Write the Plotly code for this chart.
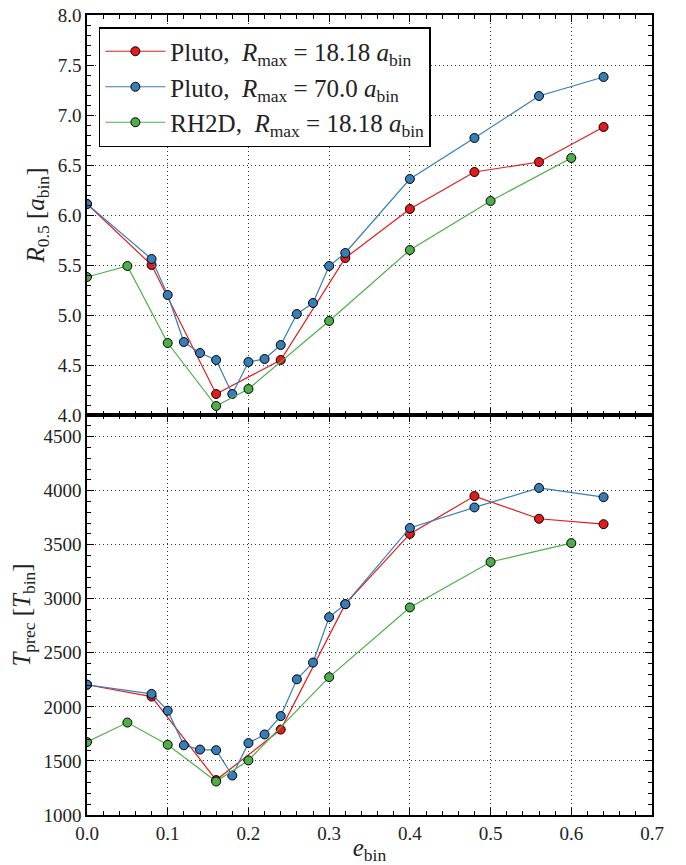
import plotly.graph_objects as go
from plotly.subplots import make_subplots

# Data
e_red = [0.0, 0.08, 0.16, 0.24, 0.32, 0.40, 0.48, 0.56, 0.64]
r_red = [6.11, 5.50, 4.21, 4.55, 5.57, 6.06, 6.43, 6.53, 6.88]
t_red = [2205, 2095, 1323, 1790, 2950, 3600, 3950, 3740, 3690]

e_blue = [0.0, 0.08, 0.10, 0.12, 0.14, 0.16, 0.18, 0.20, 0.22, 0.24, 0.26, 0.28, 0.30, 0.32, 0.40, 0.48, 0.56, 0.64]
r_blue = [6.11, 5.56, 5.20, 4.73, 4.62, 4.55, 4.21, 4.53, 4.56, 4.70, 5.01, 5.12, 5.49, 5.62, 6.36, 6.77, 7.19, 7.38]
t_blue = [2205, 2120, 1965, 1645, 1605, 1600, 1365, 1665, 1745, 1915, 2255, 2410, 2830, 2950, 3655, 3845, 4025, 3940]

e_green = [0.0, 0.05, 0.10, 0.16, 0.20, 0.30, 0.40, 0.50, 0.60]
r_green = [5.38, 5.49, 4.72, 4.09, 4.26, 4.94, 5.65, 6.14, 6.57]
t_green = [1675, 1855, 1650, 1310, 1505, 2275, 2920, 3340, 3515]

names = [
    "Pluto,  <i>R</i><sub>max</sub> = 18.18 <i>a</i><sub>bin</sub>",
    "Pluto,  <i>R</i><sub>max</sub> = 70.0 <i>a</i><sub>bin</sub>",
    "RH2D,  <i>R</i><sub>max</sub> = 18.18 <i>a</i><sub>bin</sub>",
]
colors = ["#e41a1c", "#377eb8", "#4daf4a"]

FONT = "Liberation Serif"

fig = make_subplots(rows=2, cols=1, shared_xaxes=False, vertical_spacing=0.0)

series = [(e_red, r_red, t_red), (e_blue, r_blue, t_blue), (e_green, r_green, t_green)]
for i, (ex, ry, ty) in enumerate(series):
    common = dict(mode="lines+markers",
                  line=dict(color=colors[i], width=1.2),
                  marker=dict(symbol="circle", size=9, color=colors[i],
                              line=dict(color="black", width=1)))
    fig.add_trace(go.Scatter(x=ex, y=ry, name=names[i], showlegend=True,
                             legendgroup=f"g{i}", **common), row=1, col=1)
    fig.add_trace(go.Scatter(x=ex, y=ty, name=names[i], showlegend=False,
                             legendgroup=f"g{i}", **common), row=2, col=1)

axis_common = dict(
    showline=True, linecolor="black", linewidth=1.6, mirror="allticks",
    ticks="inside", ticklen=7, tickwidth=1, tickcolor="black",
    showgrid=True, gridcolor="#333", griddash="1px,3px", gridwidth=1,
    zeroline=False, automargin=False, ticklabeloverflow="allow",
    tickfont=dict(family=FONT, size=19, color="#222"),
)

fig.update_xaxes(range=[0, 0.7], dtick=0.1, tick0=0, tickformat=".1f",
                 minor=dict(dtick=0.02, ticklen=4, ticks="inside", tickcolor="black", showgrid=False),
                 **axis_common)
fig.update_xaxes(showticklabels=False, row=1, col=1)
fig.update_xaxes(title=dict(text="<i>e</i><sub>bin</sub>", font=dict(family=FONT, size=25, color="#222"),
                            standoff=2), row=2, col=1)

fig.update_yaxes(range=[4.0, 8.0], dtick=0.5, tick0=4.0, tickformat=".1f",
                 minor=dict(dtick=0.1, ticklen=4, ticks="inside", tickcolor="black", showgrid=False),
                 title=dict(text="<i>R</i><sub>0.5</sub> [<i>a</i><sub>bin</sub>]",
                            font=dict(family=FONT, size=25, color="#222"), standoff=6),
                 row=1, col=1, **axis_common)
fig.update_yaxes(range=[1000, 4700], dtick=500, tick0=1000, tickformat="d",
                 minor=dict(dtick=100, ticklen=4, ticks="inside", tickcolor="black", showgrid=False),
                 title=dict(text="<i>T</i><sub>prec</sub> [<i>T</i><sub>bin</sub>]",
                            font=dict(family=FONT, size=25, color="#222"), standoff=6),
                 row=2, col=1, **axis_common)

fig.update_layout(
    width=686, height=865,
    margin=dict(l=87, r=34, t=15, b=50),
    paper_bgcolor="white", plot_bgcolor="white",
    font=dict(family=FONT, color="#222"),
    legend=dict(x=0.021, y=0.985, xanchor="left", yanchor="top",
                bgcolor="white", bordercolor="black", borderwidth=1.5,
                font=dict(family=FONT, size=25, color="#222"),
                tracegroupgap=0, itemwidth=60),
    showlegend=True,
)

# remove the browser's default 8px page margin so the figure sits at the window origin
fig.write_html("out.html", config={"displayModeBar": False},
               post_script="document.body.style.margin='0px';")
